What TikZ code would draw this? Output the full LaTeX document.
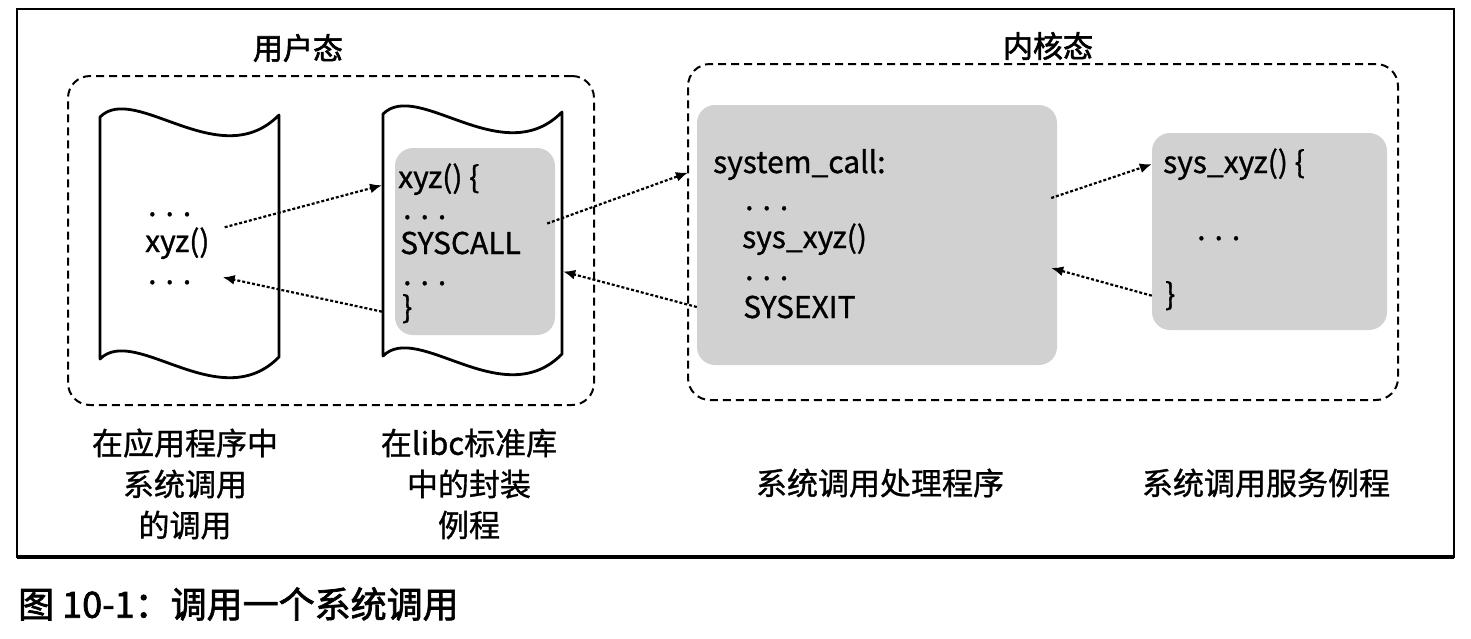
\documentclass[tikz,border=0pt]{standalone}
\usepackage{fontspec}
\newfontfamily\cjk[FakeBold=1]{Noto Sans CJK SC}
\newfontfamily\cjkb[FakeBold=2]{Noto Sans CJK SC}
\newcommand\dotrow{.\hspace{.3em}.\hspace{.3em}.}
\usetikzlibrary{arrows.meta}

\begin{document}
\begin{tikzpicture}[x=1pt, y=-1pt,
	every node/.style={font=\cjk\fontsize{30}{33}\selectfont, inner sep=0pt},
	code/.style={anchor=base west},
	note/.style={align=center, font=\cjk\fontsize{31}{41}\selectfont},
	title/.style={font=\cjkb\fontsize{30}{30}\selectfont},
	dashbox/.style={draw, line width=2pt, dash pattern=on 8pt off 5pt, rounded corners=22pt},
	graybox/.style={fill=black!18, rounded corners=18pt},
	call/.style={line width=2.2pt, dash pattern=on 3pt off 2pt, -{Latex[length=12pt,width=10pt]}}]
					\useasboundingbox (0,0) rectangle (1471,638);
					\draw [line width=2pt] (17,9) rectangle (1454,557);
					\draw [line width=3.5pt] (17,557) -- (1454,557);
					
					%user mode
					\node [title] (user) at (298,48) {用户态};
					\node [dashbox, minimum width=526pt, minimum height=329pt] (ubox) at (331,240.5) {};
					
					%scrolls
					\foreach \sx/\sy in {100/117, 383/114}
					\draw [line width=2.8pt, line join=round, shift={(\sx,\sy)}]
						(0,0) .. controls (35,-35) and (120,58) .. (179,-2) -- (179,240)
						.. controls (120,300) and (35,207) .. (0,242) -- cycle;
					\node [graybox, minimum width=160pt, minimum height=187pt] (wrap) at (475,241.5) {};
					
					%application
					\node [code] (u1) at (148,216) {\dotrow};
					\node [code] (ucall) at (145,252) {xyz()};
					\node [code] (u2) at (148,284) {\dotrow};
					
					%libc wrapper
					\node [code] (w0) at (398,188) {xyz() \{};
					\node [code] (w1) at (403,219) {\dotrow};
					\node [code] (wsys) at (400,254) {SYSCALL};
					\node [code] (w2) at (403,285) {\dotrow};
					\node [code] (wend) at (402,318) {\}};
					
					%kernel mode
					\node [title] (kernel) at (1048,46) {内核态};
					\node [dashbox, minimum width=710pt, minimum height=336pt] (kbox) at (1043,232) {};
					\node [graybox, minimum width=360pt, minimum height=260pt] (handler) at (877,235) {};
					\node [graybox, minimum width=235pt, minimum height=197pt] (service) at (1269.5,231.5) {};
					
					\node [code] (k0) at (713,173) {system\_call:};
					\node [code] (k1) at (745,210) {\dotrow};
					\node [code] (k2) at (742,248) {sys\_xyz()};
					\node [code] (k3) at (745,280) {\dotrow};
					\node [code] (kexit) at (743,318) {SYSEXIT};
					
					\node [code] (s0) at (1163,173) {sys\_xyz() \{};
					\node [code] (s1) at (1197,240) {\dotrow};
					\node [code] (send) at (1165,305) {\}};
					
					%calls
					\draw [call] ([xshift=15pt]ucall.north east) -- ([shift={(-16,6)}]w0.west);
					\draw [call] ([shift={(-20,3)}]wend.west) -- ([shift={(13,18)}]ucall.south east);
					\draw [call] ([shift={(-8,-18)}]wrap.east) -- ([shift={(-25,8)}]k0.west);
					\draw [call] (kexit.west -| handler.west) -- ([shift={(8,30)}]wrap.east);
					\draw [call] ([shift={(-6,-37)}]handler.east) -- (s0.west -| service.west);
					\draw [call] (send.west -| service.west) -- ([shift={(-6,33)}]handler.east);
					
					%labels
					\node [note] (lapp) at (185,484) {在应用程序中\\系统调用\\的调用};
					\node [note] (llibc) at (469,484) {在libc标准库\\中的封装\\例程};
					\node [note] (lhandler) at (880,483) {系统调用处理程序};
					\node [note] (lservice) at (1266,483) {系统调用服务例程};
					\node [anchor=west, font=\cjkb\fontsize{36}{36}\selectfont] (cap) at (18,604) {图 10-1：调用一个系统调用};
				\end{tikzpicture}
\end{document}
